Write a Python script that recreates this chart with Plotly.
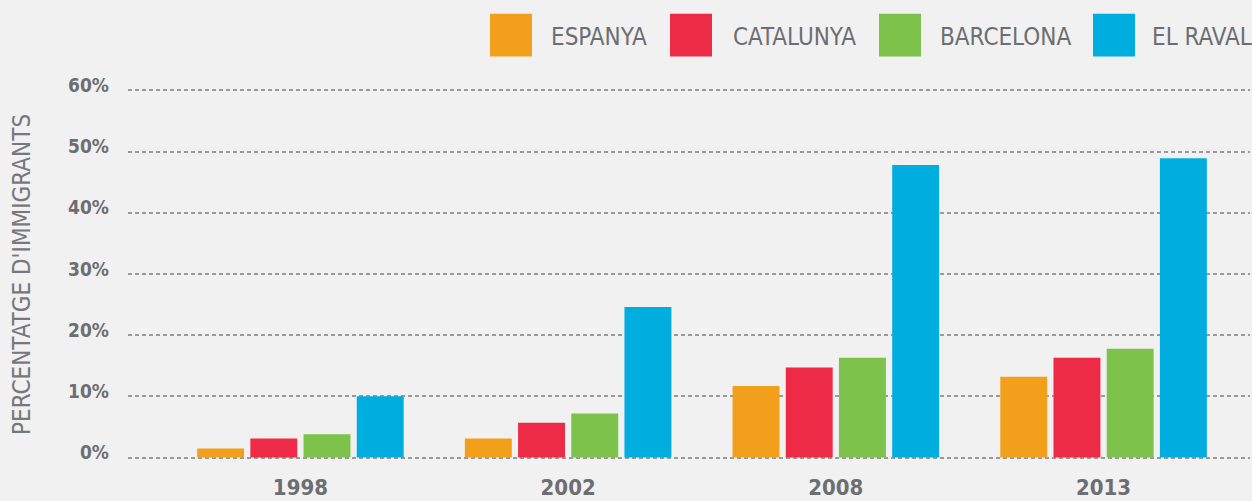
import plotly.graph_objects as go

years = ["1998", "2002", "2008", "2013"]
series_names = ["ESPANYA", "CATALUNYA", "BARCELONA", "EL RAVAL"]
espanya = [1.5, 3.1, 11.7, 13.2]
catalunya = [3.1, 5.7, 14.7, 16.3]
barcelona = [3.8, 7.2, 16.3, 17.8]
el_raval = [10.0, 24.6, 47.8, 48.9]
colors = ["#f2a01b", "#ee2b47", "#7dc24a", "#00addf"]
y_ticks = [0, 10, 20, 30, 40, 50, 60]
y_tick_labels = ["0%", "10%", "20%", "30%", "40%", "50%", "60%"]
y_title = "PERCENTATGE D'IMMIGRANTS"

FONT = "Liberation Sans Narrow, DejaVu Sans Condensed, Roboto, sans-serif"
GRAY = "#6d6e71"

W, H = 1252, 501
UNIT = 368 / 60.0
YMIN, YMAX = -0.4, 60.4
L, R = 128, 2
T = 90 - (YMAX - 60) * UNIT
B = H - 458 - (0 - YMIN) * UNIT
PW, PH = W - L - R, H - T - B

def px_x(p):
    return (p - L) / PW

def px_y(p):
    return (H - B - p) / PH

fig = go.Figure()
for name, vals, col in zip(series_names, [espanya, catalunya, barcelona, el_raval], colors):
    fig.add_trace(go.Bar(x=years, y=vals, name=name, marker=dict(color=col, line=dict(width=0)),
                         showlegend=False))

fig.update_layout(
    width=W, height=H,
    margin=dict(l=L, r=R, t=T, b=B, autoexpand=False),
    paper_bgcolor="#f1f1f1", plot_bgcolor="#f1f1f1",
    barmode="group", bargap=0.205, bargroupgap=0.118,
    font=dict(family=FONT, color=GRAY),
    xaxis=dict(type="category", range=[-0.644, 3.547], showgrid=False, zeroline=False,
               showline=False, ticks="", ticklabelstandoff=12,
               tickfont=dict(size=22, color=GRAY, family=FONT, weight="bold")),
    yaxis=dict(range=[YMIN, YMAX], tickvals=y_ticks, ticktext=y_tick_labels,
               showgrid=True, gridcolor="#9a9a9c", gridwidth=2, griddash="4px,3px",
               zeroline=False, showline=False, ticks="", ticklabelstandoff=18,
               ticklabelshift=-5,
               tickfont=dict(size=19, color=GRAY, family=FONT, weight="bold")),
)

annotations = [dict(text=y_title, textangle=-90, xref="paper", yref="paper",
                    x=px_x(22), y=px_y(275), xanchor="center", yanchor="middle",
                    showarrow=False, font=dict(size=24, color="#77787b", family=FONT))]
shapes = []
sq_left = [490, 670, 879, 1093]
txt_left = [549, 731, 938, 1150]
for name, col, sl, tl in zip(series_names, colors, sq_left, txt_left):
    shapes.append(dict(type="rect", xref="paper", yref="paper",
                       x0=px_x(sl), x1=px_x(sl + 42), y0=px_y(56), y1=px_y(13),
                       fillcolor=col, line=dict(width=0)))
    annotations.append(dict(text=name, xref="paper", yref="paper", x=px_x(tl), y=px_y(36),
                            xanchor="left", yanchor="middle", showarrow=False,
                            font=dict(size=24, color=GRAY, family=FONT)))
fig.update_layout(annotations=annotations, shapes=shapes)

fig.write_html("out.html", config={"displayModeBar": False},
               post_script="document.body.style.margin='0';document.body.style.overflow='hidden';")
